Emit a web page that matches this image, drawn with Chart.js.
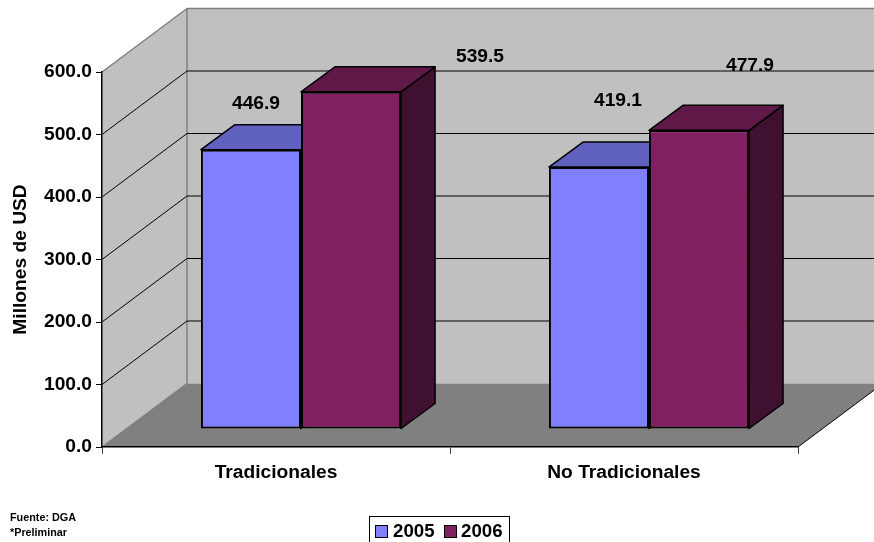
<!DOCTYPE html>
<html>
<head>
<meta charset="utf-8">
<title>Millones de USD</title>
<script src="https://cdn.jsdelivr.net/npm/chart.js@4"></script>
<style>
    html, body { margin: 0; padding: 0; background: #fff; overflow: hidden; }
    canvas { display: block; }
</style>
</head>
<body>
<canvas id="chart" width="874" height="542"></canvas>
<script>
// data
const categories = ['Tradicionales', 'No Tradicionales'];
const seriesNames = ['2005', '2006'];
const values2005 = [446.9, 419.1];
const values2006 = [539.5, 477.9];
const axisTicks = [0, 100, 200, 300, 400, 500, 600];
const notes = ['Fuente: DGA', '*Preliminar'];

// colours: front, top, side
const colors2005 = ['#8080ff', '#6060bf', '#404080'];
const colors2006 = ['#802060', '#601848', '#401030'];

const FONT = '"Liberation Sans", Arial, sans-serif';
const FONT_SIZE = 19.2;
const WALL_DX = 85, WALL_DY = -63.5; // back wall offset from the axis plane
const BAR_DX = 25, BAR_DY = -18;     // bars stand this far in from the front edge
const BOX_DX = 34, BOX_DY = -25;     // depth of a bar

// where each value label was placed, relative to its bar front top centre
const labelOffsets = [[[5, -45.5], [19, -66.5]], [[129, -35.5], [51, -64.5]]];

function poly(ctx, pts, fill, stroke, width){
    ctx.beginPath();
    pts.forEach((p, i) => i ? ctx.lineTo(p[0], p[1]) : ctx.moveTo(p[0], p[1]));
    ctx.closePath();
    if(fill){ ctx.fillStyle = fill; ctx.fill(); }
    if(stroke){ ctx.strokeStyle = stroke; ctx.lineWidth = width; ctx.stroke(); }
}

const room = {
    id: 'room',
    // walls, floor and wall grid lines
    beforeDraw(chart){
        const ctx = chart.ctx, a = chart.chartArea, yScale = chart.scales.y;
        const l = a.left, r = a.right, t = a.top, b = a.bottom;
        ctx.save();
        ctx.lineJoin = 'round';
        poly(ctx, [[l + WALL_DX, t + WALL_DY], [r + WALL_DX, t + WALL_DY], [r + WALL_DX, b + WALL_DY], [l + WALL_DX, b + WALL_DY]], '#c0c0c0');
        poly(ctx, [[l, t], [l + WALL_DX, t + WALL_DY], [l + WALL_DX, b + WALL_DY], [l, b]], '#c0c0c0');
        poly(ctx, [[l, b], [l + WALL_DX, b + WALL_DY], [r + WALL_DX, b + WALL_DY], [r, b]], '#808080');

        ctx.strokeStyle = '#808080';
        ctx.lineWidth = 1.5;
        ctx.beginPath();
        ctx.moveTo(l, t);
        ctx.lineTo(l + WALL_DX, t + WALL_DY);
        ctx.lineTo(r + WALL_DX, t + WALL_DY);
        ctx.moveTo(l + WALL_DX, t + WALL_DY);
        ctx.lineTo(l + WALL_DX, b + WALL_DY);
        ctx.lineTo(l, b);
        ctx.stroke();

        ctx.strokeStyle = '#000';
        ctx.lineWidth = 1;
        axisTicks.slice(1, -1).forEach(v => {
            const y = yScale.getPixelForValue(v);
            ctx.beginPath();
            ctx.moveTo(l, y);
            ctx.lineTo(l + WALL_DX, y + WALL_DY);
            ctx.lineTo(r + WALL_DX, y + WALL_DY);
            ctx.stroke();
        });
        // right edge of the floor
        ctx.beginPath();
        ctx.moveTo(r, b);
        ctx.lineTo(r + WALL_DX, b + WALL_DY);
        ctx.stroke();
        ctx.restore();
    },
    // top and side of each bar go first, the Chart.js bar is the front face
    beforeDatasetsDraw(chart){
        const ctx = chart.ctx;
        ctx.save();
        ctx.translate(BAR_DX, BAR_DY);
        ctx.lineJoin = 'round';
        chart.data.datasets.forEach((ds, d) => {
            const colors = d === 0 ? colors2005 : colors2006;
            chart.getDatasetMeta(d).data.forEach(bar => {
                const p = bar.getProps(['x', 'y', 'base', 'width']);
                const x0 = p.x - p.width / 2, x1 = p.x + p.width / 2;
                poly(ctx, [[x1, p.y], [x1 + BOX_DX, p.y + BOX_DY], [x1 + BOX_DX, p.base + BOX_DY], [x1, p.base]], colors[2], '#000', 1.5);
                poly(ctx, [[x0, p.y], [x0 + BOX_DX, p.y + BOX_DY], [x1 + BOX_DX, p.y + BOX_DY], [x1, p.y]], colors[1], '#000', 1.5);
            });
        });
    },
    afterDatasetsDraw(chart){
        chart.ctx.restore();
    },
    afterDraw(chart){
        const ctx = chart.ctx;
        ctx.save();
        ctx.fillStyle = '#000';

        // value labels
        ctx.font = 'bold ' + FONT_SIZE + 'px ' + FONT;
        ctx.textAlign = 'center';
        ctx.textBaseline = 'middle';
        chart.data.datasets.forEach((ds, d) => {
            chart.getDatasetMeta(d).data.forEach((bar, i) => {
                const off = labelOffsets[d][i];
                ctx.fillText(ds.data[i].toFixed(1), bar.x + BAR_DX + off[0], bar.y + BAR_DY + off[1]);
            });
        });

        // notes under the chart
        ctx.font = 'bold 10.8px ' + FONT;
        ctx.textAlign = 'left';
        notes.forEach((n, i) => ctx.fillText(n, 10, 518 + i * 15));

        // legend box
        ctx.lineWidth = 1;
        ctx.strokeStyle = '#000';
        ctx.strokeRect(369.5, 516.5, 140, 32);
        const swatchX = [375, 444], textX = [393, 461];
        ctx.font = 'bold 18.67px ' + FONT;
        chart.data.datasets.forEach((ds, d) => {
            ctx.fillStyle = ds.backgroundColor;
            ctx.fillRect(swatchX[d], 525, 12, 12);
            ctx.strokeRect(swatchX[d] + 0.5, 525.5, 12, 12);
            ctx.fillStyle = '#000';
            ctx.fillText(ds.label, textX[d], 532);
        });
        ctx.restore();
    }
};

new Chart(document.getElementById('chart'), {
    type: 'bar',
    data: {
        labels: categories,
        datasets: [
            { label: seriesNames[0], data: values2005, backgroundColor: colors2005[0] },
            { label: seriesNames[1], data: values2006, backgroundColor: colors2006[0] }
        ]
    },
    options: {
        responsive: false,
        animation: false,
        events: [],
        layout: { padding: { left: 0, top: 72, right: 76, bottom: 0 } },
        datasets: {
            bar: {
                categoryPercentage: 0.575,
                barPercentage: 1,
                borderColor: '#000',
                borderWidth: 2,
                borderSkipped: false
            }
        },
        plugins: {
            legend: { display: false },
            title: { display: false },
            tooltip: { enabled: false }
        },
        scales: {
            x: {
                afterFit(scale){ scale.height = 95; },
                border: { color: '#000', width: 1.5 },
                grid: { offset: true, drawOnChartArea: false, drawTicks: true, tickLength: 7, color: '#404040' },
                ticks: {
                    color: '#000',
                    padding: 7,
                    maxRotation: 0,
                    font: { family: FONT, size: FONT_SIZE, weight: 'bold' }
                }
            },
            y: {
                min: 0,
                max: 600,
                afterFit(scale){ scale.width = 102; },
                border: { color: '#000', width: 1.5 },
                grid: { drawOnChartArea: false, drawTicks: true, tickLength: 6, color: '#000' },
                afterBuildTicks(scale){ scale.ticks = axisTicks.map(v => ({ value: v })); },
                ticks: {
                    color: '#000',
                    padding: 4,
                    callback: v => v.toFixed(1),
                    font: { family: FONT, size: FONT_SIZE, weight: 'bold' }
                },
                title: {
                    display: true,
                    text: 'Millones de USD',
                    color: '#000',
                    padding: { top: 9, bottom: 0 },
                    font: { family: FONT, size: FONT_SIZE, weight: 'bold' }
                }
            }
        }
    },
    plugins: [room]
});
</script>
</body>
</html>
